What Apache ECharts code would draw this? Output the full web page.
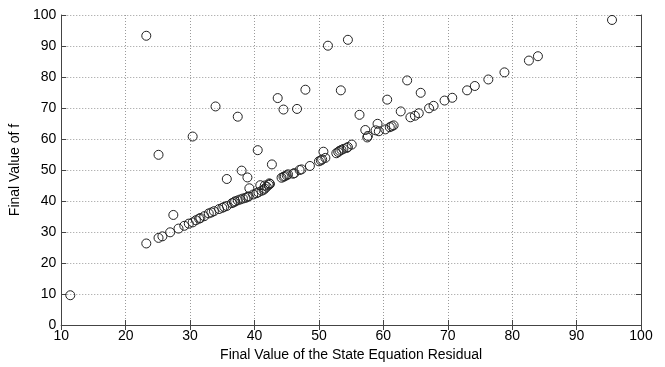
<!DOCTYPE html>
<html>
<head>
<meta charset="utf-8">
<script src="https://cdn.jsdelivr.net/npm/echarts@6/dist/echarts.min.js"></script>
<style>
  html, body { margin: 0; padding: 0; background: #fff; }
  #chart { width: 665px; height: 367px; }
</style>
</head>
<body>
<div id="chart"></div>
<script>
// Final state-equation residual (x) against final objective value f (y), one run per point
const residual = [
  23.2, 25.1, 25.7, 26.9, 28.2, 29.1, 29.8, 30.4, 30.9, 31.4, 31.6, 32.2, 32.9, 33.3, 33.7,
  34.5, 35.0, 35.3, 35.7, 36.5, 36.8, 37.0, 37.4, 37.8, 38.2, 38.6, 38.9, 39.1, 39.8, 40.3,
  40.6, 41.1, 41.4, 41.6, 41.9, 42.2, 42.4, 40.9, 41.6, 42.3,
  44.2, 44.5, 44.7, 45.0, 45.2, 46.0, 46.2, 47.0, 47.3, 48.6, 50.0, 50.3, 50.5, 51.0,
  52.7, 53.0, 53.2, 53.5, 53.8, 54.3, 54.5, 55.1, 57.5, 57.6, 59.3, 60.3, 61.0, 61.3, 61.6,
  64.2, 64.9, 65.5, 67.1, 67.8, 69.5, 70.7, 73.0, 74.2, 76.3, 78.8, 82.6, 84.0, 95.5,
  11.4, 23.2, 25.1, 30.4, 27.4, 33.95, 37.4, 35.7, 38.0, 38.9, 39.2, 40.5, 42.7, 43.6,
  44.5, 46.6, 47.9, 51.4, 53.4, 54.5, 56.3, 60.6, 62.7, 63.7, 65.8, 57.2, 59.1, 58.8, 50.7
];
const finalF = [
  26.3, 28.1, 28.6, 29.9, 31.1, 32.0, 32.7, 33.1, 33.8, 34.3, 34.5, 35.1, 36.0, 36.3, 36.7,
  37.4, 37.8, 38.1, 38.4, 39.3, 39.6, 39.9, 40.2, 40.5, 40.8, 41.0, 41.3, 41.5, 42.1, 42.5,
  42.8, 43.3, 43.6, 44.0, 44.6, 45.2, 45.5, 45.1, 45.0, 45.7,
  47.5, 47.8, 48.0, 48.3, 48.6, 48.8, 49.0, 50.0, 50.2, 51.3, 52.8, 53.1, 53.4, 53.9,
  55.4, 55.8, 56.2, 56.5, 56.8, 57.1, 57.4, 58.2, 60.5, 61.0, 62.5, 63.1, 63.8, 64.1, 64.4,
  67.0, 67.5, 68.3, 69.9, 70.7, 72.4, 73.3, 75.7, 77.1, 79.2, 81.5, 85.3, 86.7, 98.4,
  9.6, 93.3, 54.9, 60.8, 35.5, 70.5, 67.2, 47.1, 49.8, 47.6, 44.1, 56.4, 51.8, 73.2,
  69.5, 69.7, 75.9, 90.1, 75.7, 92.0, 67.8, 72.7, 68.9, 78.9, 74.9, 62.9, 64.9, 62.8, 55.9
];
const xTicks = [10, 20, 30, 40, 50, 60, 70, 80, 90, 100];
const yTicks = [0, 10, 20, 30, 40, 50, 60, 70, 80, 90, 100];

const points = residual.map((r, i) => [r, finalF[i]]);

const FONT = '"Liberation Sans", Arial, sans-serif';
const axisLine = { show: true, lineStyle: { color: '#444', width: 1 } };
const tick = { show: true, inside: true, length: 5, lineStyle: { color: '#444' } };
const grid = { show: true, lineStyle: { color: '#9a9a9a', type: [1, 2], width: 1 } };

const chart = echarts.init(document.getElementById('chart'), null, { renderer: 'canvas' });
chart.setOption({
  animation: false,
  backgroundColor: '#fff',
  grid: { left: 56, right: 24, top: 15, bottom: 36, containLabel: false },
  xAxis: [
    {
      type: 'value', min: xTicks[0], max: xTicks[xTicks.length - 1], interval: 10,
      name: 'Final Value of the State Equation Residual', nameLocation: 'middle', nameGap: 23,
      nameTextStyle: { fontFamily: FONT, fontSize: 14, color: '#000' },
      axisLine, axisTick: tick, splitLine: grid,
      axisLabel: { fontFamily: FONT, fontSize: 14, color: '#000', margin: 4 }
    },
    {
      type: 'value', position: 'top', min: xTicks[0], max: xTicks[xTicks.length - 1], interval: 10,
      axisLine, axisTick: tick, splitLine: { show: false }, axisLabel: { show: false }
    }
  ],
  yAxis: [
    {
      type: 'value', min: yTicks[0], max: yTicks[yTicks.length - 1], interval: 10,
      name: 'Final Value of f', nameLocation: 'middle', nameGap: 31, nameRotate: 90,
      nameTextStyle: { fontFamily: FONT, fontSize: 14, color: '#000' },
      axisLine, axisTick: tick, splitLine: grid,
      axisLabel: { fontFamily: FONT, fontSize: 14, color: '#000', margin: 5 }
    },
    {
      type: 'value', position: 'right', min: yTicks[0], max: yTicks[yTicks.length - 1], interval: 10,
      axisLine, axisTick: tick, splitLine: { show: false }, axisLabel: { show: false }
    }
  ],
  series: [{
    type: 'scatter',
    data: points,
    symbol: 'circle',
    symbolSize: 9,
    itemStyle: { color: 'rgba(0,0,0,0)', borderColor: '#222', borderWidth: 1, opacity: 1 },
    silent: true
  }]
});
</script>
</body>
</html>
